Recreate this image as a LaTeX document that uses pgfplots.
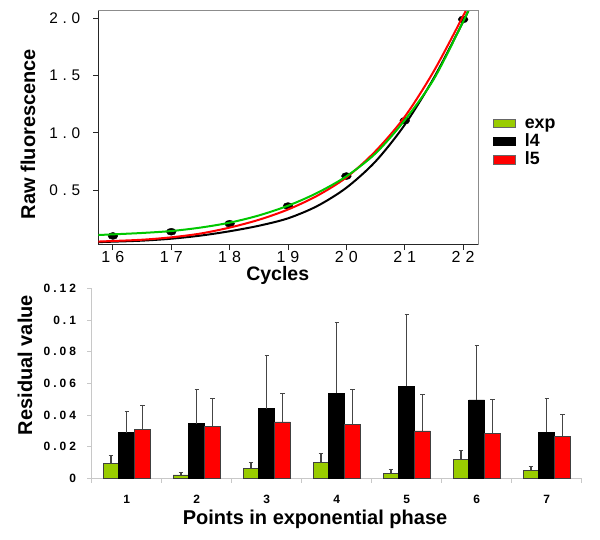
\documentclass[border=0pt]{standalone}
\usepackage{pgfplots}
\pgfplotsset{compat=1.18}
\usepackage{fontspec}
\setmainfont{Liberation Sans}
\definecolor{curvegreen}{HTML}{00C800}
\definecolor{bargreen}{HTML}{99CC00}
\definecolor{axgray}{HTML}{8C8C8C}
\definecolor{lightax}{HTML}{C8C8C8}
\definecolor{errgray}{HTML}{454545}
\newcommand{\Ka}{\kern4.6pt}
\newcommand{\Kx}{\kern5pt}
\newcommand{\Kb}{\kern3pt}
\pgfplotsset{myerr/.style={error bars/.cd, y dir=plus, y explicit,
  error bar style={errgray, line width=1.2pt},
  error mark=-,
  error mark options={rotate=90, errgray, line width=0.9pt, mark size=2.2pt}}}
\begin{document}
\begin{tikzpicture}[x=1pt,y=1pt]
\path[use as bounding box] (0,0) rectangle (600,539);

\begin{axis}[
  at={(98.3pt,294pt)}, anchor=south west,
  scale only axis, width=380pt, height=234.3pt,
  xmin=15.75, xmax=22.26, ymin=0.02, ymax=2.066,
  axis lines=left, axis line style={-, black!85, line width=1pt},
  clip mode=individual,
  tick align=outside, major tick length=5pt,
  tick style={black!85, line width=0.8pt},
  xtick={16,17,18,19,20,21,22},
  xticklabels={1\Kx6,1\Kx7,1\Kx8,1\Kx9,2\Kx0,2\Kx1,2\Kx2},
  ytick={0.5,1,1.5,2},
  yticklabels={0\Ka.\Ka5,1\Ka.\Ka0,1\Ka.\Ka5,2\Ka.\Ka0},
  xticklabel style={font=\fontsize{16}{16}\selectfont, inner sep=0pt, anchor=north, yshift=-1pt},
  yticklabel style={font=\fontsize{15.4}{16}\selectfont, inner sep=0pt, anchor=east, xshift=-13pt},
  legend style={at={(1.038,0.442)}, anchor=west, draw=none, fill=none, inner sep=0pt,
    row sep=0pt, column sep=8pt, font=\bfseries\fontsize{17.8}{18}\selectfont,
    nodes={text height=13.3pt, text depth=3pt, inner sep=1pt}},
  legend cell align=left,
  legend image code/.code={\draw[#1] (0pt,-4.2pt) rectangle (22.3pt,4.2pt);},
]
\addlegendimage{fill=bargreen, draw=black!60, line width=0.6pt}
\addlegendentry{exp}
\addlegendimage{fill=black, draw=black, line width=0.6pt}
\addlegendentry{l4}
\addlegendimage{fill=red, draw=black!60, line width=0.6pt}
\addlegendentry{l5}
\addplot[only marks, mark=*, mark size=3.5pt, mark options={xscale=1.4, fill=black}, forget plot] coordinates {
 (16,0.099) (17,0.136) (18,0.206) (19,0.360) (20,0.622) (21,1.105) (22,1.990)};
\addplot[black, line width=2pt, smooth, forget plot] coordinates {
 (15.75,0.045) (16,0.049) (16.5,0.058) (17,0.075) (17.5,0.102) (18,0.140) (18.5,0.188)
 (19,0.253) (19.5,0.360) (20,0.520) (20.5,0.750) (21,1.070) (21.5,1.480) (22,1.970) (22.1,2.080)};
\addplot[red, line width=2pt, smooth, forget plot] coordinates {
 (15.75,0.050) (16,0.055) (16.5,0.066) (17,0.087) (17.5,0.120) (18,0.172) (18.5,0.240)
 (19,0.330) (19.5,0.450) (20,0.610) (20.5,0.840) (21,1.140) (21.5,1.540) (22,2.020) (22.1,2.130)};
\addplot[curvegreen, line width=2pt, smooth, forget plot] coordinates {
 (15.75,0.107) (16,0.113) (16.5,0.125) (17,0.142) (17.5,0.172) (18,0.215) (18.5,0.278)
 (19,0.363) (19.5,0.475) (20,0.620) (20.5,0.820) (21,1.110) (21.5,1.470) (22,1.970) (22.1,2.080)};
\draw[axgray, line width=1pt] (rel axis cs:0,1) -- (rel axis cs:1,1) -- (rel axis cs:1,0);
\end{axis}
\node[rotate=90, font=\bfseries\fontsize{20}{20}\selectfont] at (28,405) {Raw fluorescence};
\node[font=\bfseries\fontsize{19.5}{20}\selectfont] at (277.7,264) {Cycles};

\begin{axis}[
  at={(91.7pt,60.7pt)}, anchor=south west,
  scale only axis, width=490pt, height=190pt,
  xmin=0.5, xmax=7.5, ymin=0, ymax=0.12,
  axis lines=left, axis line style={-, lightax, line width=1pt},
  ybar=0pt, bar width=15.8pt,
  tick align=outside, major tick length=4.5pt,
  tick style={lightax, line width=0.8pt},
  xtick={0.5,1.5,2.5,3.5,4.5,5.5,6.5,7.5},
  xticklabels={},
  extra x ticks={1,2,3,4,5,6,7},
  extra x tick labels={1,2,3,4,5,6,7},
  extra x tick style={major tick length=0pt, xticklabel style={font=\bfseries\fontsize{12}{12}\selectfont, inner sep=0pt, anchor=north, yshift=-16.7pt}},
  ytick={0,0.02,0.04,0.06,0.08,0.1,0.12},
  yticklabels={0,0\Kb.\Kb0\Kb2,0\Kb.\Kb0\Kb4,0\Kb.\Kb0\Kb6,0\Kb.\Kb0\Kb8,0\Kb.\Kb1,0\Kb.\Kb1\Kb2},
  yticklabel style={font=\bfseries\fontsize{12}{12}\selectfont, inner sep=0pt, anchor=east, xshift=-11pt},
]
\addplot[fill=bargreen, draw=black!75, line width=0.7pt, myerr] coordinates {
 (1,0.0095) +- (0,0.0052) (2,0.0021) +- (0,0.0017) (3,0.0063) +- (0,0.0038)
 (4,0.0101) +- (0,0.0059) (5,0.0033) +- (0,0.0026) (6,0.0120) +- (0,0.0057) (7,0.0050) +- (0,0.0023)};
\addplot[fill=black, draw=black, line width=0.7pt, myerr] coordinates {
 (1,0.0288) +- (0,0.0132) (2,0.0345) +- (0,0.0217) (3,0.0440) +- (0,0.0337)
 (4,0.0537) +- (0,0.0450) (5,0.0581) +- (0,0.0457) (6,0.0495) +- (0,0.0345) (7,0.0290) +- (0,0.0217)};
\addplot[fill=red, draw=black!75, line width=0.7pt, myerr] coordinates {
 (1,0.0310) +- (0,0.0153) (2,0.0328) +- (0,0.0177) (3,0.0356) +- (0,0.0181)
 (4,0.0341) +- (0,0.0223) (5,0.0299) +- (0,0.0231) (6,0.0284) +- (0,0.0211) (7,0.0267) +- (0,0.0139)};
\end{axis}
\node[rotate=90, font=\bfseries\fontsize{20}{20}\selectfont] at (25,174) {Residual value};
\node[font=\bfseries\fontsize{20}{20}\selectfont] at (315,20) {Points in exponential phase};
\end{tikzpicture}
\end{document}
